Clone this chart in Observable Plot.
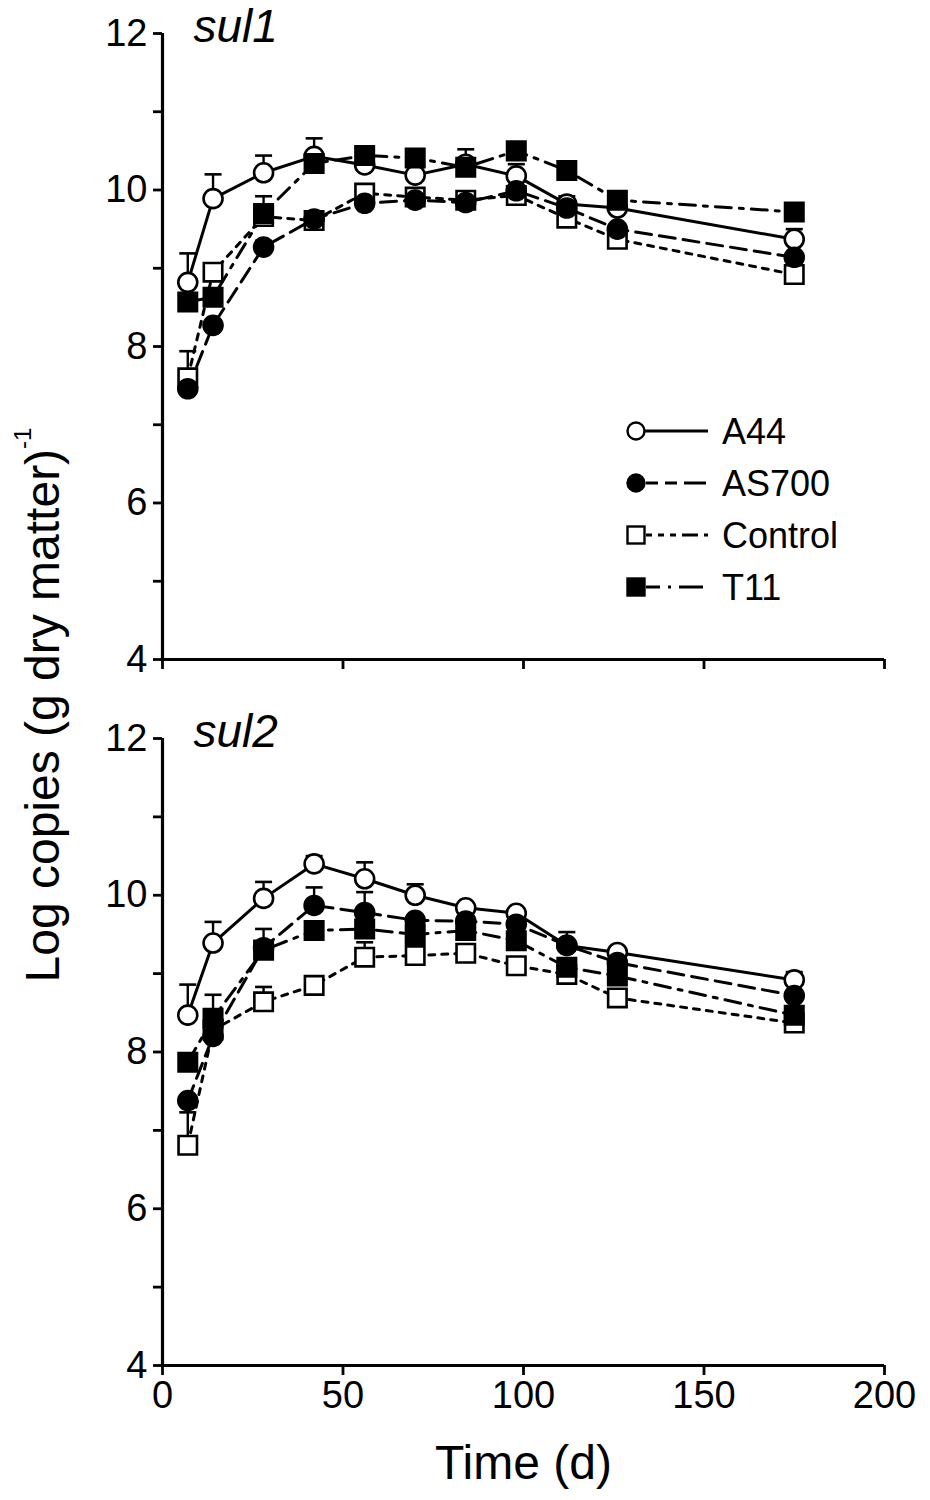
<!DOCTYPE html>
<html><head><meta charset="utf-8">
<script src="https://cdn.jsdelivr.net/npm/d3@7"></script>
<script src="https://cdn.jsdelivr.net/npm/@observablehq/plot@0.6"></script>
<style>
body{margin:0;background:#fff;}
#wrap{position:relative;width:930px;height:1500px;font-family:"Liberation Sans",Arial,sans-serif;color:#000;background:#fff;}
.panel{position:absolute;left:0;z-index:1;}
g[aria-label*="axis"] path, g[aria-label*="axis"] line{stroke-width:2.8px;stroke:#000;}
#ylab{position:absolute;left:42px;top:705px;transform:translate(-50%,-50%) rotate(-90deg);white-space:nowrap;font-size:48px;z-index:5;}
#ylab sup{font-size:24px;vertical-align:28px;line-height:0;}
#legend{position:absolute;left:0;top:0;z-index:4;}
</style></head><body><div id="wrap"><div id="ylab">Log copies (g dry matter)<sup>-1</sup></div></div>
<script>
// ---- data ----
const days = [7, 14, 28, 42, 56, 70, 84, 98, 112, 126, 175];
const seriesNames = ["A44", "AS700", "Control", "T11"];
const panelNames = ["sul1", "sul2"];

const sul1_A44       = [8.82, 9.89, 10.22, 10.43, 10.32, 10.19, 10.33, 10.18, 9.82, 9.77, 9.37];
const sul1_A44_err   = [0.37, 0.31, 0.22, 0.23, 0.05, 0.05, 0.19, 0.15, 0.10, 0.05, 0.13];
const sul1_AS700     = [7.46, 8.27, 9.27, 9.63, 9.83, 9.87, 9.84, 9.99, 9.77, 9.50, 9.14];
const sul1_AS700_err = [0.03, 0.04, 0.08, 0.05, 0.03, 0.03, 0.03, 0.03, 0.03, 0.03, 0.03];
const sul1_Control     = [7.60, 8.95, 9.66, 9.61, 9.96, 9.91, 9.87, 9.93, 9.64, 9.37, 8.92];
const sul1_Control_err = [0.34, 0.04, 0.04, 0.04, 0.10, 0.06, 0.04, 0.05, 0.04, 0.04, 0.04];
const sul1_T11       = [8.57, 8.63, 9.70, 10.34, 10.44, 10.41, 10.29, 10.50, 10.25, 9.87, 9.72];
const sul1_T11_err   = [0.04, 0.04, 0.22, 0.05, 0.04, 0.04, 0.04, 0.04, 0.04, 0.04, 0.10];

const sul2_A44       = [8.47, 9.39, 9.96, 10.40, 10.21, 10.00, 9.84, 9.77, 9.36, 9.27, 8.92];
const sul2_A44_err   = [0.39, 0.27, 0.21, 0.10, 0.21, 0.14, 0.06, 0.05, 0.05, 0.05, 0.10];
const sul2_AS700     = [7.38, 8.20, 9.33, 9.87, 9.78, 9.68, 9.67, 9.63, 9.36, 9.14, 8.72];
const sul2_AS700_err = [0.03, 0.05, 0.05, 0.23, 0.26, 0.06, 0.05, 0.05, 0.17, 0.05, 0.05];
const sul2_Control     = [6.81, 8.28, 8.64, 8.85, 9.21, 9.23, 9.26, 9.10, 8.99, 8.69, 8.37];
const sul2_Control_err = [0.42, 0.04, 0.19, 0.05, 0.19, 0.05, 0.04, 0.04, 0.04, 0.04, 0.04];
const sul2_T11       = [7.87, 8.43, 9.30, 9.55, 9.57, 9.50, 9.55, 9.42, 9.08, 8.97, 8.47];
const sul2_T11_err   = [0.05, 0.30, 0.27, 0.05, 0.05, 0.05, 0.05, 0.05, 0.05, 0.05, 0.05];

const xTicks = [0, 50, 100, 150, 200];
const yMajorTicks = [4, 6, 8, 10, 12];
const yMinorTicks = [5, 7, 9, 11];
const xLabel = "Time (d)";

// ---- tables built from arrays ----
const panelData = {
  sul1: {A44: [sul1_A44, sul1_A44_err], AS700: [sul1_AS700, sul1_AS700_err], Control: [sul1_Control, sul1_Control_err], T11: [sul1_T11, sul1_T11_err]},
  sul2: {A44: [sul2_A44, sul2_A44_err], AS700: [sul2_AS700, sul2_AS700_err], Control: [sul2_Control, sul2_Control_err], T11: [sul2_T11, sul2_T11_err]}
};
function rowsFor(panel) {
  const out = [];
  for (const s of seriesNames) {
    const [vals, errs] = panelData[panel][s];
    days.forEach((d, i) => out.push({series: s, day: d, value: vals[i], err: errs[i]}));
  }
  return out;
}

// ---- styles ----
const style = {
  A44:     {dash: null,            legendDash: null,                 symbol: "circle", fill: "white", r: 9.5},
  AS700:   {dash: "16,8",          legendDash: "0,10,12,7,12,7,12",  symbol: "circle", fill: "black", r: 9.5},
  Control: {dash: "6,7",           legendDash: "0,10,6,6,6,6,6,6,6", symbol: "square", fill: "white", r: 10.4},
  T11:     {dash: "16,8,4,8",      legendDash: "0,10,14,8,3,8,14",   symbol: "square", fill: "black", r: 10.4}
};
const drawOrder = ["A44", "Control", "AS700", "T11"];
const capSymbol = {draw(ctx) { ctx.moveTo(-8.5, 0); ctx.lineTo(8.5, 0); }};

function makePanel(panel, opts) {
  const rows = rowsFor(panel);
  const marks = [];
  for (const s of drawOrder) {
    const st = style[s];
    marks.push(Plot.line(rows.filter(d => d.series === s), {x: "day", y: "value", stroke: "black", strokeWidth: 3, strokeDasharray: st.dash || undefined}));
  }
  marks.push(Plot.ruleX(rows, {x: "day", y1: "value", y2: d => d.value + d.err, stroke: "black", strokeWidth: 2.4}));
  marks.push(Plot.dot(rows, {x: "day", y: d => d.value + d.err, symbol: capSymbol, stroke: "black", strokeWidth: 2.6, fill: "none"}));
  for (const s of drawOrder) {
    const st = style[s];
    marks.push(Plot.dot(rows.filter(d => d.series === s), {x: "day", y: "value", symbol: st.symbol, r: st.r, fill: st.fill, stroke: "black", strokeWidth: 2.6}));
  }
  marks.push(Plot.ruleX([0], {stroke: "black", strokeWidth: 3.2}));
  marks.push(Plot.ruleY([4], {stroke: "black", strokeWidth: 3.2}));
  marks.push(Plot.text([panel], {frameAnchor: "top-left", dx: 31, dy: -6, text: d => d, fontStyle: "italic", fontSize: 46, textAnchor: "start", lineAnchor: "middle", fill: "black"}));
  if (opts.xLabel) {
    marks.push(Plot.text([xLabel], {frameAnchor: "bottom", dy: 98, text: d => d, fontSize: 48, lineAnchor: "middle", fill: "black"}));
  }
  return Plot.plot({
    width: 930,
    height: opts.height,
    marginLeft: 162,
    marginRight: 46,
    marginTop: 33,
    marginBottom: opts.marginBottom,
    style: {fontFamily: "Liberation Sans, Arial, sans-serif", fontSize: "38px", color: "black", background: "transparent", overflow: "visible"},
    x: {domain: [0, 200], ticks: xTicks, tickSize: 10, tickPadding: 6, tickFormat: opts.xLabel ? (d => String(d)) : (() => ""), label: null},
    y: {domain: [4, 12], ticks: yMajorTicks.concat(yMinorTicks), tickSize: 9, tickPadding: 6, tickFormat: d => (yMajorTicks.includes(d) ? String(d) : ""), label: null},
    marks
  });
}

const wrap = document.getElementById("wrap");
const top1 = makePanel("sul1", {height: 700, marginBottom: 41, xLabel: false});
top1.classList.add("panel"); top1.style.top = "0px";
wrap.appendChild(top1);
const bot = makePanel("sul2", {height: 795, marginBottom: 135, xLabel: true});
bot.classList.add("panel"); bot.style.top = "705px";
wrap.appendChild(bot);

// ---- legend ----
const leg = d3.select(wrap).append("svg").attr("id", "legend").attr("width", 930).attr("height", 700);
seriesNames.forEach((s, i) => {
  const st = style[s];
  const g = leg.append("g").attr("transform", `translate(636,${431 + 52 * i})`);
  g.append("line").attr("x1", 0).attr("x2", 72).attr("y1", 0).attr("y2", 0)
    .attr("stroke", "black").attr("stroke-width", 2.8).attr("stroke-dasharray", st.legendDash);
  if (st.symbol === "circle") g.append("circle").attr("r", 8.5).attr("fill", st.fill).attr("stroke", "black").attr("stroke-width", 2.4);
  else g.append("rect").attr("x", -8.5).attr("y", -8.5).attr("width", 17).attr("height", 17).attr("fill", st.fill).attr("stroke", "black").attr("stroke-width", 2.4);
  g.append("text").attr("x", 86).attr("y", 0).attr("dy", "0.35em").attr("font-size", 36).attr("font-family", "Liberation Sans, Arial, sans-serif").text(s);
});
</script></body></html>
